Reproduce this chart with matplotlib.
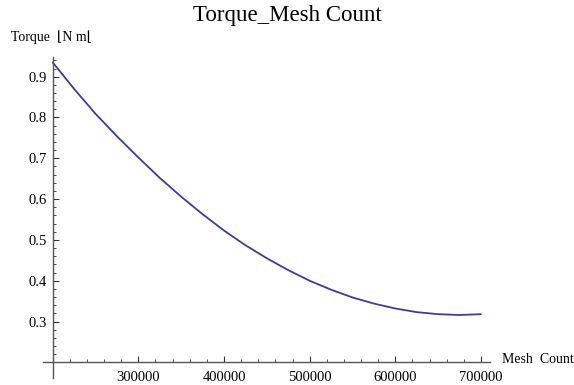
import matplotlib
matplotlib.use("Agg")
import matplotlib.pyplot as plt
import numpy as np

# Data
mesh_count = [200000, 225000, 250000, 275000, 300000, 325000, 350000, 375000,
              400000, 425000, 450000, 475000, 500000, 525000, 550000, 575000,
              600000, 625000, 650000, 675000, 700000]
torque = [0.935, 0.870, 0.809, 0.754, 0.702, 0.652, 0.606, 0.563,
          0.523, 0.487, 0.455, 0.426, 0.400, 0.378, 0.359, 0.344,
          0.332, 0.323, 0.318, 0.316, 0.318]

x_major = [300000, 400000, 500000, 600000, 700000]
x_major_labels = ["300000", "400000", "500000", "600000", "700000"]
y_major = [0.3, 0.4, 0.5, 0.6, 0.7, 0.8, 0.9]
y_major_labels = ["0.3", "0.4", "0.5", "0.6", "0.7", "0.8", "0.9"]

title = "Torque_Mesh Count"
x_label = "Mesh  Count"
y_label = "Torque  \u230aN m\u230a"

serif = ["Liberation Serif", "DejaVu Serif"]
plt.rcParams["font.family"] = serif

fig = plt.figure(figsize=(5.74, 3.85), dpi=100)
ax = fig.add_axes([43.3 / 574, 1 - 378 / 385, (490 - 43.3) / 574, (378 - 56.7) / 385])

ax.plot(mesh_count, torque, color="#3d3d99", lw=1.3,
        solid_capstyle="round", solid_joinstyle="round")

ax.set_xlim(189000, 710600)
ax.set_ylim(0.1616, 0.949)

for s in ["top", "right"]:
    ax.spines[s].set_visible(False)
ax.spines["left"].set_position(("data", 200000))
ax.spines["bottom"].set_position(("data", 0.2))
for s in ["left", "bottom"]:
    ax.spines[s].set_color("#555555")
    ax.spines[s].set_linewidth(1.0)

ax.set_xticks(x_major)
ax.set_xticklabels(x_major_labels)
ax.set_yticks(y_major)
ax.set_yticklabels(y_major_labels)

x_minor = [v for v in range(220000, 710000, 20000) if v not in x_major]
y_minor = [round(0.22 + 0.02 * i, 2) for i in range(37)]
y_minor = [v for v in y_minor if v <= 0.945 and round(v * 10, 6) != round(v * 10)]
ax.set_xticks(x_minor, minor=True)
ax.set_yticks(y_minor, minor=True)

ax.tick_params(axis="both", which="major", direction="in", length=4, width=0.8,
               color="#333333", labelsize=10.5)
ax.tick_params(axis="both", which="minor", direction="in", length=2, width=0.6,
               color="#333333")
ax.tick_params(axis="x", which="major", pad=6)
ax.tick_params(axis="y", which="major", pad=4)

fig.text(0.5, 1 - 20.7 / 385, title, ha="center", va="baseline", fontsize=16.5)
fig.text(11 / 574, 1 - 40.7 / 385, y_label, ha="left", va="baseline", fontsize=10)
fig.text(502 / 574, 1 - 363.3 / 385, x_label, ha="left", va="baseline", fontsize=10)

fig.savefig("out.png", dpi=100)
